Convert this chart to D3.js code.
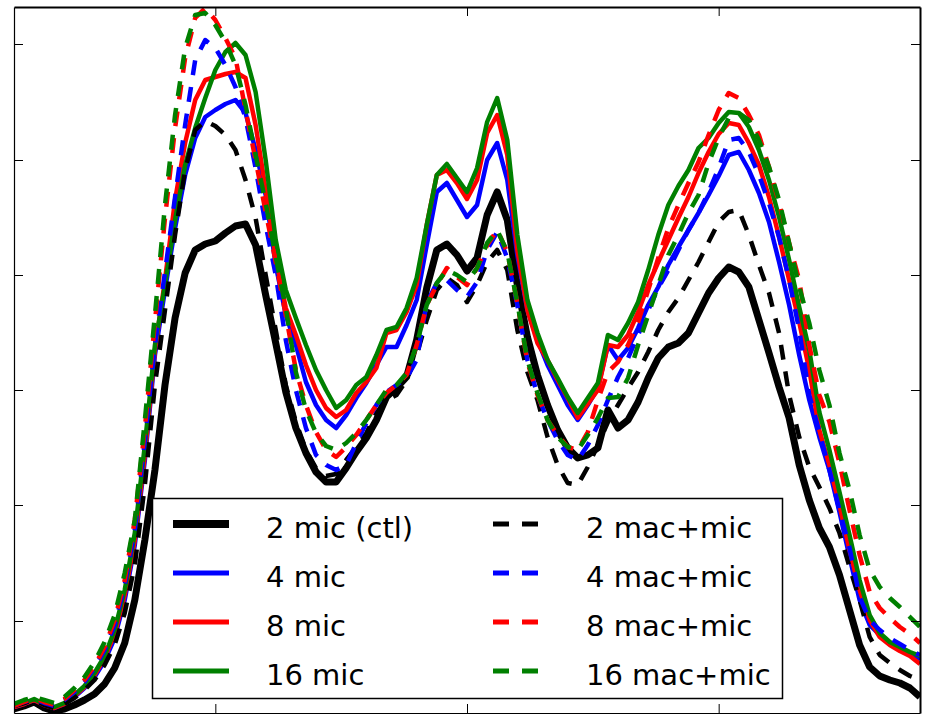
<!DOCTYPE html>
<html lang="en">
<head>
<meta charset="UTF-8">
<title>mic vs mac+mic</title>
<script src="https://cdn.jsdelivr.net/npm/d3@7"></script>
<style>
  body { margin: 0; background: #fff; }
  text { font-family: "DejaVu Sans", sans-serif; }
</style>
</head>
<body>
<script>
    // sample positions along x, and tick positions (no tick labels in the figure)
    let xs = d3.range(0, 181, 2);
    let xTicks = [40, 90, 140];
    let yTicks = [92, 208, 323, 438, 553, 669];

    // solid lines: microglia only
    let mic2 = [4, 7, 11, 5, 2, 4, 8, 13, 19, 29,
        45, 70, 113, 173, 243, 328, 395, 440, 463, 469,
        472, 480, 487, 489, 468, 418, 370, 321, 285, 260,
        241, 231, 231, 245, 261, 275, 293, 316, 325, 336,
        373, 425, 463, 469, 458, 442, 455, 498, 521, 493,
        428, 376, 338, 308, 283, 265, 255, 258, 265, 303,
        285, 293, 311, 335, 355, 366, 370, 380, 400, 420,
        435, 446, 441, 426, 393, 360, 326, 295, 248, 213,
        185, 166, 138, 103, 68, 46, 37, 33, 30, 25, 16];
    let mic4 = [6, 9, 13, 8, 5, 9, 16, 25, 36, 52,
        75, 113, 168, 253, 358, 423, 485, 538, 575, 596,
        603, 609, 613, 600, 563, 518, 448, 398, 368, 331,
        308, 293, 285, 298, 315, 330, 348, 366, 366, 388,
        413, 468, 521, 530, 513, 496, 508, 553, 570, 533,
        458, 403, 373, 348, 328, 308, 293, 308, 325, 368,
        353, 365, 385, 408, 426, 448, 466, 483, 500, 518,
        537, 558, 561, 543, 520, 491, 451, 408, 358, 313,
        276, 243, 201, 156, 113, 88, 78, 70, 65, 60, 53];
    let mic8 = [6, 9, 13, 8, 5, 9, 17, 26, 38, 55,
        79, 118, 173, 258, 363, 433, 513, 570, 613, 633,
        636, 639, 641, 635, 588, 523, 455, 405, 378, 348,
        323, 305, 296, 303, 320, 331, 345, 380, 383, 401,
        428, 488, 538, 543, 530, 514, 533, 580, 598, 558,
        463, 403, 370, 353, 333, 315, 295, 309, 323, 368,
        366, 378, 401, 428, 451, 473, 495, 516, 540, 561,
        579, 590, 588, 570, 548, 516, 476, 433, 391, 343,
        283, 248, 208, 163, 123, 93, 76, 68, 62, 57, 49];
    let mic16 = [7, 10, 14, 9, 6, 10, 18, 27, 40, 57,
        83, 123, 180, 268, 368, 428, 493, 548, 585, 615,
        643, 661, 670, 658, 621, 553, 473, 423, 395, 368,
        343, 323, 305, 313, 328, 336, 358, 383, 386, 405,
        435, 488, 538, 549, 535, 521, 545, 591, 615, 573,
        478, 413, 380, 353, 335, 316, 300, 315, 330, 378,
        373, 390, 411, 443, 478, 508, 527, 543, 565, 575,
        590, 601, 600, 586, 563, 533, 496, 453, 406, 363,
        301, 263, 221, 178, 133, 98, 80, 71, 66, 61, 57];

    // dashed lines: macrophage + microglia
    let macmic2 = [7, 10, 13, 8, 5, 9, 15, 23, 33, 48,
        68, 100, 148, 228, 328, 403, 478, 543, 583, 592,
        587, 578, 563, 533, 495, 438, 383, 328, 291, 263,
        245, 237, 239, 253, 266, 280, 300, 313, 318, 333,
        358, 393, 423, 435, 428, 411, 428, 451, 463, 443,
        383, 341, 313, 276, 248, 230, 228, 246, 268, 291,
        308, 325, 341, 361, 383, 401, 415, 433, 451, 471,
        491, 501, 503, 478, 448, 420, 380, 318, 276, 246,
        226, 205, 180, 146, 113, 76, 58, 50, 43, 37, 33];
    let macmic4 = [7, 11, 14, 10, 7, 13, 21, 31, 45, 63,
        88, 128, 183, 273, 368, 441, 516, 588, 653, 673,
        665, 648, 626, 595, 545, 488, 438, 373, 323, 285,
        258, 248, 243, 248, 270, 290, 308, 321, 328, 335,
        353, 410, 430, 433, 423, 416, 431, 463, 481, 455,
        408, 353, 318, 293, 273, 258, 253, 268, 288, 313,
        336, 355, 378, 403, 425, 443, 463, 483, 500, 521,
        545, 573, 575, 561, 538, 510, 476, 433, 383, 318,
        281, 243, 203, 165, 116, 93, 83, 75, 69, 63, 58];
    let macmic8 = [7, 11, 15, 11, 8, 14, 23, 33, 47, 66,
        93, 133, 193, 285, 391, 495, 585, 655, 695, 705,
        693, 675, 655, 603, 553, 501, 451, 398, 343, 308,
        281, 263, 256, 266, 278, 293, 308, 320, 328, 338,
        368, 408, 428, 445, 436, 428, 445, 468, 483, 461,
        410, 351, 318, 293, 278, 266, 263, 281, 313, 341,
        351, 368, 391, 423, 455, 485, 508, 530, 551, 578,
        603, 620, 615, 598, 578, 546, 510, 470, 433, 368,
        318, 291, 250, 203, 158, 121, 105, 95, 86, 79, 70];
    let macmic16 = [9, 13, 16, 13, 10, 16, 25, 36, 51, 71,
        98, 140, 193, 293, 398, 508, 598, 665, 698, 700,
        688, 671, 648, 608, 558, 510, 456, 405, 341, 303,
        280, 267, 263, 270, 280, 293, 308, 323, 328, 340,
        368, 408, 430, 443, 438, 431, 445, 470, 483, 461,
        410, 353, 320, 293, 276, 266, 263, 278, 295, 315,
        316, 335, 368, 398, 428, 458, 478, 500, 518, 550,
        575, 595, 600, 593, 573, 546, 513, 470, 426, 390,
        343, 308, 260, 223, 178, 143, 126, 115, 106, 96, 86];

    let labels = ['2 mic (ctl)', '4 mic', '8 mic', '16 mic',
        '2 mac+mic', '4 mac+mic', '8 mac+mic', '16 mac+mic'];
    let values = [mic2, mic4, mic8, mic16, macmic2, macmic4, macmic8, macmic16];

    let colors = ['#000000', '#0000ff', '#ff0000', '#008000'];
    let series = values.map(function (v, i) {
        return {
            label: labels[i],
            values: v,
            color: colors[i % 4],
            width: i === 0 ? 7 : 4.5,
            dash: i < 4 ? null : '15,12'
        };
    });

    let width = 926, height = 715;
    let pLeft = 14, pRight = 920, pTop = 7, pBottom = 713;

    let svg = d3.select('body')
        .append('svg')
        .attr('width', width)
        .attr('height', height)
        .style('display', 'block')
        .style('background', '#fff');

    let x = d3.scaleLinear().domain([0, 180]).range([pLeft, pRight]);
    let y = d3.scaleLinear().domain([0, 706]).range([pBottom, pTop]);

    svg.append('clipPath').attr('id', 'plot')
        .append('rect')
        .attr('x', pLeft).attr('y', pTop)
        .attr('width', pRight - pLeft).attr('height', pBottom - pTop);

    let line = d3.line()
        .x(function (d, i) { return x(xs[i]); })
        .y(function (d) { return y(d); });

    svg.append('g')
        .attr('clip-path', 'url(#plot)')
        .selectAll('path')
        .data(series)
        .enter()
        .append('path')
        .attr('d', function (d) { return line(d.values); })
        .attr('fill', 'none')
        .attr('stroke', function (d) { return d.color; })
        .attr('stroke-width', function (d) { return d.width; })
        .attr('stroke-dasharray', function (d) { return d.dash; })
        .attr('stroke-linejoin', 'round')
        .attr('stroke-linecap', 'butt');

    // frame + inward ticks, no labels
    function frame(g, w) {
        g.selectAll('text').remove();
        g.selectAll('.domain').attr('stroke', '#000').attr('stroke-width', w);
        g.selectAll('.tick line').attr('stroke', '#000').attr('stroke-width', 1);
    }
    svg.append('g').attr('transform', 'translate(0,' + pBottom + ')')
        .call(d3.axisBottom(x).tickValues(xTicks).tickSize(-9).tickSizeOuter(0))
        .call(frame, 1.2);
    svg.append('g').attr('transform', 'translate(0,' + pTop + ')')
        .call(d3.axisTop(x).tickValues(xTicks).tickSize(-9).tickSizeOuter(0))
        .call(frame, 2);
    svg.append('g').attr('transform', 'translate(' + pLeft + ',0)')
        .call(d3.axisLeft(y).tickValues(yTicks).tickSize(-9).tickSizeOuter(0))
        .call(frame, 1.2);
    svg.append('g').attr('transform', 'translate(' + pRight + ',0)')
        .call(d3.axisRight(y).tickValues(yTicks).tickSize(-9).tickSizeOuter(0))
        .call(frame, 2);

    // legend, two columns
    let legend = svg.append('g');
    legend.append('rect')
        .attr('x', 152.5).attr('y', 498.5)
        .attr('width', 630).attr('height', 200)
        .attr('fill', '#fff')
        .attr('stroke', '#000')
        .attr('stroke-width', 1.5);

    let item = legend.selectAll('g.item')
        .data(series)
        .enter()
        .append('g')
        .attr('class', 'item')
        .attr('transform', function (d, i) {
            let col = Math.floor(i / 4), row = i % 4;
            return 'translate(' + (173 + col * 320) + ',' + (524 + row * 49) + ')';
        });
    item.append('line')
        .attr('x1', 0).attr('x2', 56)
        .attr('stroke', function (d) { return d.color; })
        .attr('stroke-width', function (d) { return d.width === 7 ? 8 : 5; })
        .attr('stroke-dasharray', function (d) { return d.dash ? '16,13' : null; });
    item.append('text')
        .attr('x', 93)
        .attr('y', 14)
        .attr('font-size', 29)
        .attr('fill', '#000')
        .text(function (d) { return d.label; });
</script>
</body>
</html>
